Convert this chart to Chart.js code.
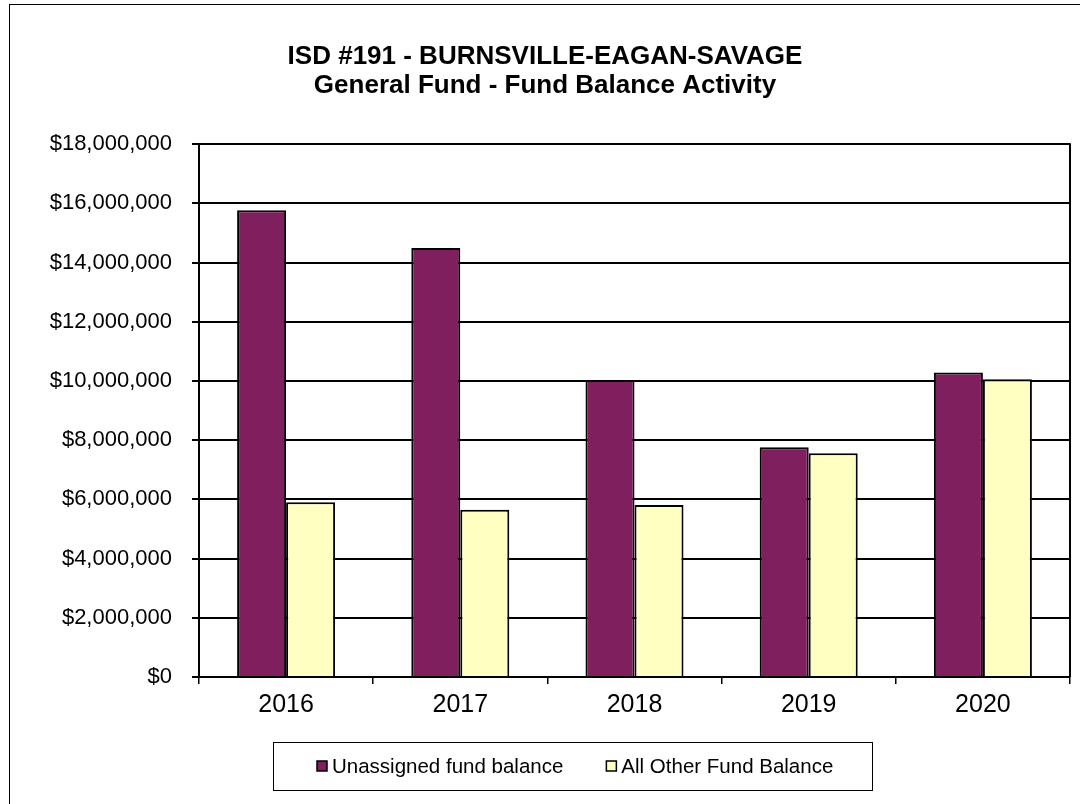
<!DOCTYPE html>
<html>
<head>
<meta charset="utf-8">
<script src="https://cdn.jsdelivr.net/npm/chart.js@4"></script>
<style>
  html, body { margin: 0; padding: 0; background: #fff; }
  #wrap { width: 1080px; height: 804px; }
</style>
</head>
<body>
<div id="wrap"><canvas id="chart" width="1080" height="804"></canvas></div>
<script>
// values
const years = ['2016', '2017', '2018', '2019', '2020'];
const unassigned = [15770000, 14490000, 10030000, 7760000, 10290000];
const allOther = [5900000, 5650000, 5810000, 7560000, 10060000];
const titleLines = ['ISD #191 - BURNSVILLE-EAGAN-SAVAGE', 'General Fund - Fund Balance Activity'];

const FONT = "'Liberation Sans', Arial, sans-serif";

// thin frame round the whole chart, and the right edge of the plot box
const framePlugin = {
  id: 'frame',
  beforeDraw(chart) {
    const c = chart.ctx;
    c.save();
    c.fillStyle = '#fff';
    c.fillRect(0, 0, chart.width, chart.height);
    c.strokeStyle = '#000';
    c.lineWidth = 1;
    c.strokeRect(9.5, 4.5, chart.width + 20, chart.height + 20);
    c.restore();
  },
  afterDatasetsDraw(chart) {
    const a = chart.chartArea, c = chart.ctx;
    c.save();
    c.strokeStyle = '#000';
    c.lineWidth = 2;
    c.beginPath();
    c.moveTo(a.right, a.top - 1);
    c.lineTo(a.right, a.bottom);
    c.stroke();
    c.restore();
  }
};

// Excel-style boxed legend under the axis
const boxLegend = {
  id: 'boxLegend',
  afterDraw(chart) {
    const c = chart.ctx;
    const sets = chart.data.datasets;
    c.save();
    c.font = '20.5px ' + FONT;
    c.textBaseline = 'middle';
    const mark = 10, gap = 5, between = 43;
    const widths = sets.map((d) => mark + gap + c.measureText(d.label).width);
    const inner = widths.reduce((s, w) => s + w, 0) + between * (sets.length - 1);
    const left = 273, top = 742, h = 48, padL = 44, padR = 39;
    c.strokeStyle = '#000';
    c.lineWidth = 1;
    c.strokeRect(left + 0.5, top + 0.5, Math.round(inner + padL + padR), h);
    let x = left + padL;
    const y = top + h / 2;
    sets.forEach((d, i) => {
      c.fillStyle = d.backgroundColor;
      c.fillRect(x, y - mark / 2, mark, mark);
      c.strokeStyle = '#000';
      c.lineWidth = 1.5;
      c.strokeRect(x, y - mark / 2, mark, mark);
      c.fillStyle = '#000';
      c.fillText(d.label, x + mark + gap, y + 1);
      x += widths[i] + between;
    });
    c.restore();
  }
};

new Chart(document.getElementById('chart'), {
  type: 'bar',
  data: {
    labels: years,
    datasets: [
      { label: 'Unassigned fund balance', data: unassigned, backgroundColor: '#7F1F5E', borderColor: '#000', borderWidth: 2 },
      { label: 'All Other Fund Balance', data: allOther, backgroundColor: '#FFFFC2', borderColor: '#000', borderWidth: 2 },
    ],
  },
  plugins: [framePlugin, boxLegend],
  options: {
    responsive: false,
    animation: false,
    devicePixelRatio: 1,
    layout: { padding: { left: 20, right: 10, top: 0, bottom: 77 } },
    datasets: { bar: { categoryPercentage: 0.5626, barPercentage: 1.0 } },
    scales: {
      x: {
        grid: { display: true, drawOnChartArea: false, drawTicks: true, tickLength: 7, color: '#000', lineWidth: 1.5 },
        border: { display: true, color: '#000', width: 2 },
        ticks: { color: '#000', font: { family: FONT, size: 25 }, padding: 6, maxRotation: 0 },
        afterFit(scale) { scale.height = 50; },
      },
      y: {
        min: 0,
        max: 18000000,
        grid: { color: '#000', lineWidth: 2, tickLength: 7 },
        border: { display: true, color: '#000', width: 2 },
        ticks: {
          stepSize: 2000000,
          color: '#000',
          padding: 20,
          font: { family: FONT, size: 22 },
          callback: (v) => '$' + Number(v).toLocaleString('en-US'),
        },
        afterFit(scale) { scale.width = 179; },
      },
    },
    plugins: {
      legend: { display: false },
      tooltip: { enabled: false },
      title: {
        display: true,
        text: titleLines,
        color: '#000',
        font: { family: FONT, size: 26, weight: 'bold', lineHeight: 1.1 },
        padding: { top: 43, bottom: 44 },
      },
    },
  },
});
</script>
</body>
</html>
